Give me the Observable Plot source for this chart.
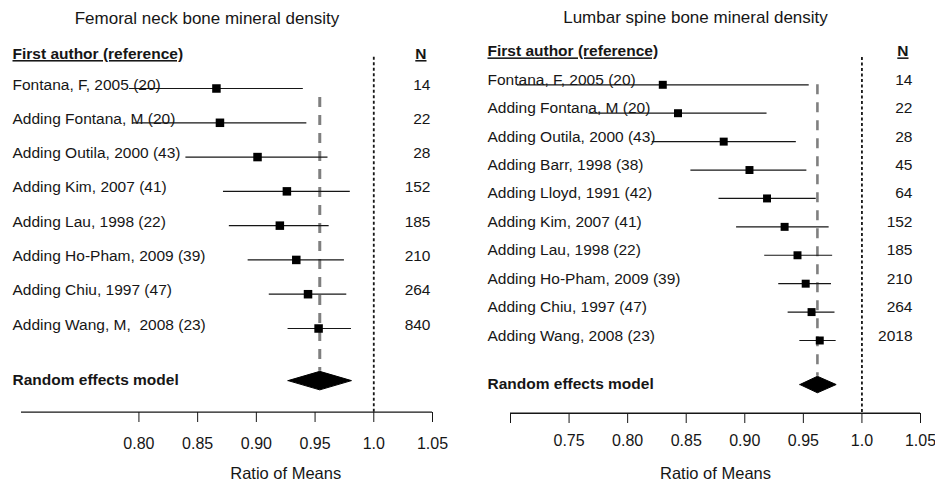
<!DOCTYPE html>
<html>
<head>
<meta charset="utf-8">
<script src="https://cdn.jsdelivr.net/npm/d3@7"></script>
<script src="https://cdn.jsdelivr.net/npm/@observablehq/plot@0.6"></script>
<style>
  html, body { margin: 0; padding: 0; background: #fff; }
  #wrap { display: flex; width: 935px; height: 485px; }
</style>
</head>
<body>
<div id="wrap"></div>
<script>
// ---------- Data ----------
const femTitle = "Femoral neck bone mineral density";
const femLabels = ["Fontana, F, 2005 (20)", "Adding Fontana, M (20)", "Adding Outila, 2000 (43)",
  "Adding Kim, 2007 (41)", "Adding Lau, 1998 (22)", "Adding Ho-Pham, 2009 (39)",
  "Adding Chiu, 1997 (47)", "Adding Wang, M,  2008 (23)"];
const femEst = [0.866, 0.869, 0.901, 0.926, 0.920, 0.934, 0.944, 0.953];
const femLo  = [0.792, 0.795, 0.840, 0.872, 0.877, 0.893, 0.911, 0.927];
const femHi  = [0.940, 0.943, 0.961, 0.980, 0.962, 0.975, 0.977, 0.981];
const femN   = [14, 22, 28, 152, 185, 210, 264, 840];
const femPooled = {est: 0.954, lo: 0.927, hi: 0.981};
const femTicks = [0.80, 0.85, 0.90, 0.95, 1.0, 1.05];
const femTickLabels = ["0.80", "0.85", "0.90", "0.95", "1.0", "1.05"];

const lumTitle = "Lumbar spine bone mineral density";
const lumLabels = ["Fontana, F, 2005 (20)", "Adding Fontana, M (20)", "Adding Outila, 2000 (43)",
  "Adding Barr, 1998 (38)", "Adding Lloyd, 1991 (42)", "Adding Kim, 2007 (41)",
  "Adding Lau, 1998 (22)", "Adding Ho-Pham, 2009 (39)", "Adding Chiu, 1997 (47)",
  "Adding Wang, 2008 (23)"];
const lumEst = [0.830, 0.843, 0.882, 0.904, 0.919, 0.934, 0.945, 0.952, 0.957, 0.964];
const lumLo  = [0.706, 0.767, 0.821, 0.854, 0.878, 0.893, 0.917, 0.929, 0.937, 0.947];
const lumHi  = [0.955, 0.919, 0.944, 0.953, 0.961, 0.972, 0.975, 0.974, 0.977, 0.978];
const lumN   = [14, 22, 28, 45, 64, 152, 185, 210, 264, 2018];
const lumPooled = {est: 0.962, lo: 0.947, hi: 0.978};
const lumTicks = [0.70, 0.75, 0.80, 0.85, 0.90, 0.95, 1.0, 1.05];
const lumTickLabels = ["", "0.75", "0.80", "0.85", "0.90", "0.95", "1.0", "1.05"];

const headerAuthor = "First author (reference)";
const headerN = "N";
const pooledLabel = "Random effects model";
const xLabel = "Ratio of Means";

const FONT = "'Liberation Sans', Arial, Helvetica, sans-serif";
const INK = "#161616";

function panel(cfg) {
  const n = cfg.labels.length;
  const rows = cfg.labels.map((label, i) => ({
    i, label, est: cfg.est[i], lo: cfg.lo[i], hi: cfg.hi[i], n: String(cfg.N[i])
  }));
  const dRow = n - 1 + cfg.diamondGap;
  const h = cfg.diamondHalf;
  const p = cfg.pooled;
  const diamond = [
    {x: p.lo, y: dRow}, {x: p.est, y: dRow - h}, {x: p.hi, y: dRow}, {x: p.est, y: dRow + h}, {x: p.lo, y: dRow}
  ];
  const labelMap = new Map(cfg.ticks.map((t, i) => [Math.round(t * 100), cfg.tickLabels[i]]));
  const xDomain = [0.70, 1.05];
  return Plot.plot({
    width: cfg.width,
    height: 485,
    marginLeft: cfg.marginLeft,
    marginRight: cfg.marginRight,
    marginTop: 0,
    marginBottom: cfg.marginBottom,
    style: {fontFamily: FONT, fontSize: "16px", color: INK, background: "#fff", overflow: "visible"},
    x: {domain: xDomain, ticks: cfg.ticks, tickFormat: d => labelMap.get(Math.round(d * 100)),
        tickSize: cfg.tickSize, tickPadding: cfg.tickPadding, label: null},
    y: {axis: null, domain: [0, n - 1], range: cfg.yRange},
    marks: [
      Plot.text([cfg.title], {frameAnchor: "top", dx: -20, dy: cfg.titleBaseline, lineAnchor: "bottom",
        text: d => d, fontSize: 17, fill: INK}),
      Plot.ruleY([cfg.axisRow], {x1: xDomain[0], x2: xDomain[1], stroke: INK, strokeWidth: 1.3}),
      Plot.ruleX([1.0], {y1: cfg.nullTop, y2: cfg.axisRow, stroke: INK, strokeWidth: 1.8, strokeDasharray: "3,2.5"}),
      Plot.ruleX([p.est], {y1: cfg.pooledTop, y2: dRow - h, stroke: "#7f7f7f", strokeWidth: cfg.pooledWidth, strokeDasharray: "10,8"}),
      Plot.ruleY(rows, {y: "i", x1: "lo", x2: "hi", stroke: INK, strokeWidth: 1.2}),
      Plot.dot(rows, {x: "est", y: "i", symbol: "square", r: cfg.r, fill: "#000", stroke: "none"}),
      Plot.line(diamond, {x: "x", y: "y", fill: "#000", stroke: "#000", strokeWidth: 1}),
      Plot.text(rows, {y: "i", text: "label", frameAnchor: "left", dx: cfg.labelDx, dy: cfg.labelDy,
        textAnchor: "start", lineAnchor: "bottom", fontSize: 15.5, fill: INK}),
      Plot.text(rows, {y: "i", text: "n", frameAnchor: "right", dx: cfg.nDx, dy: cfg.labelDy,
        textAnchor: "end", lineAnchor: "bottom", fontSize: 15.5, fill: INK}),
      Plot.text([headerAuthor], {y: () => cfg.headerRow, text: d => d, frameAnchor: "left", dx: cfg.labelDx,
        textAnchor: "start", lineAnchor: "bottom", fontSize: 15.5, fontWeight: "bold", fill: INK}),
      Plot.text([headerN], {y: () => cfg.headerRow, text: d => d, frameAnchor: "right", dx: cfg.nHeaderDx,
        textAnchor: "end", lineAnchor: "bottom", fontSize: 15.5, fontWeight: "bold", fill: INK}),
      Plot.text([pooledLabel], {y: () => dRow, text: d => d, frameAnchor: "left", dx: cfg.labelDx, dy: 4,
        textAnchor: "start", lineAnchor: "bottom", fontSize: 15.5, fontWeight: "bold", fill: INK}),
      Plot.text([xLabel], {x: () => cfg.xLabelAt, frameAnchor: "bottom", dy: cfg.xLabelDy, lineAnchor: "bottom",
        text: d => d, fontSize: 16.5, fill: INK})
    ]
  });
}

// underline the column headers (text decoration of existing text)
function underlineHeaders(svg) {
  const heads = new Set([headerAuthor, headerN]);
  svg.querySelectorAll("text").forEach(t => {
    if (!heads.has(t.textContent)) return;
    t.style.textDecoration = "underline";
    t.setAttribute("text-decoration", "underline");
  });
}

const left = panel({
  title: femTitle, labels: femLabels, est: femEst, lo: femLo, hi: femHi, N: femN, pooled: femPooled,
  ticks: femTicks, tickLabels: femTickLabels,
  width: 467, marginLeft: 21, marginRight: 35, marginBottom: 73,
  yRange: [88, 328], axisRow: 9.44, headerRow: -0.86, nullTop: -0.91, pooledTop: 0.26,
  diamondGap: 1.52, diamondHalf: 0.27, r: 4.8, pooledWidth: 3,
  tickSize: 10, tickPadding: 15, labelDx: -9, labelDy: 1, nDx: -2, nHeaderDx: -6,
  titleBaseline: 23, xLabelAt: 0.925, xLabelDy: 66
});
const right = panel({
  title: lumTitle, labels: lumLabels, est: lumEst, lo: lumLo, hi: lumHi, N: lumN, pooled: lumPooled,
  ticks: lumTicks, tickLabels: lumTickLabels,
  width: 468, marginLeft: 43, marginRight: 15, marginBottom: 72,
  yRange: [84.3, 340], axisRow: 11.56, headerRow: -1.0, nullTop: -0.96, pooledTop: 0,
  diamondGap: 1.55, diamondHalf: 0.29, r: 4.5, pooledWidth: 2.6,
  tickSize: 10, tickPadding: 11, labelDx: -23, labelDy: 0, nDx: -8, nHeaderDx: -12,
  titleBaseline: 22, xLabelAt: 0.875, xLabelDy: 65
});
document.getElementById("wrap").append(left, right);
underlineHeaders(left);
underlineHeaders(right);
</script>
</body>
</html>
